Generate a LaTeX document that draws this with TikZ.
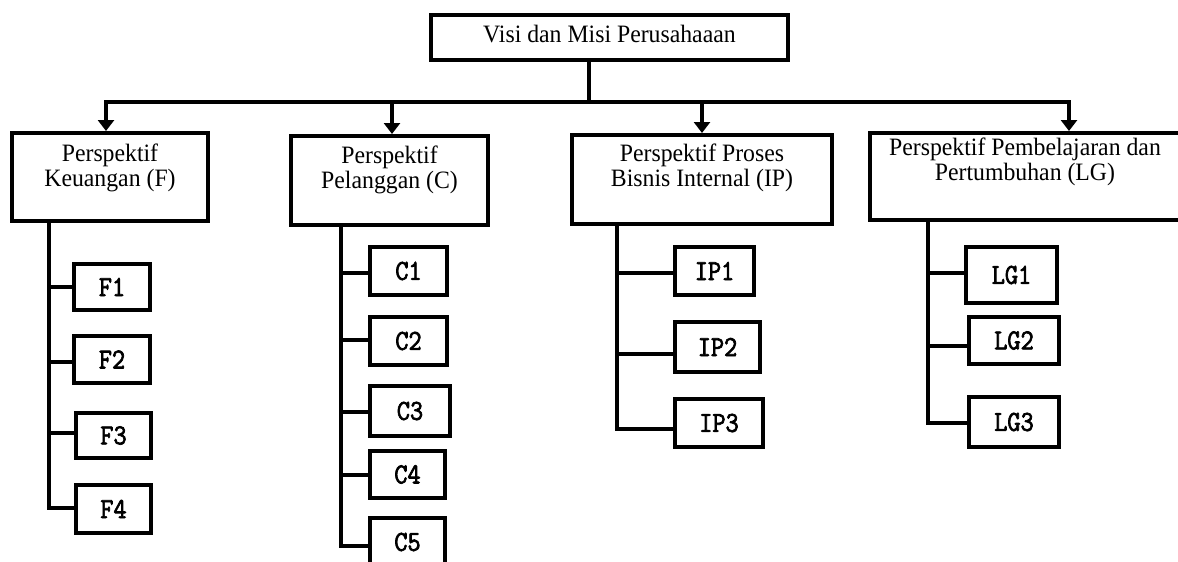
\documentclass[tikz,border=0pt]{standalone}
\usepackage{fontspec}
\setmainfont{Liberation Serif}[FakeStretch=0.95]
\newfontfamily\subfont{Latin Modern Mono}[FakeStretch=0.88, FakeBold=2.5]
\usetikzlibrary{arrows.meta}
\newcommand\ptxt[4]{\parbox[c][#2pt][t]{#1pt}{\centering\vspace*{#3pt}#4\par}}
\begin{document}
\begin{tikzpicture}[x=1pt, y=-1pt, line width=4pt,
  lbox/.style={draw, rectangle, inner sep=0pt, font=\fontsize{25}{25}\selectfont},
  sbox/.style={draw, rectangle, inner sep=0pt, font=\subfont\fontsize{29}{29}\selectfont},
  arr/.style={-{Triangle[width=16pt,length=11pt]}}]
\useasboundingbox (0,0) rectangle (1178,562);

% top
\node[lbox, minimum width=357pt, minimum height=45pt, text height=17pt, text depth=8pt] (V) at (609.5,37.5) {Visi dan Misi Perusahaaan};

% perspectives
\node[lbox] (F)  at (110,177)    {\ptxt{196}{88}{11}{Perspektif\\Keuangan (F)}};
\node[lbox] (C)  at (389.5,180.5) {\ptxt{197}{89}{10}{Perspektif\\Pelanggan (C)}};
\node[lbox] (IP) at (702,179.5)  {\ptxt{260}{89}{9}{Perspektif Proses\\Bisnis Internal (IP)}};
\node[lbox] (LG) at (1025,176.5) {\ptxt{310}{87}{5}{Perspektif Pembelajaran dan\\Pertumbuhan (LG)}};

% sub items F
\node[sbox, minimum width=76pt, minimum height=46pt] (F1) at (112,287)   {F1};
\node[sbox, minimum width=76pt, minimum height=47pt] (F2) at (112,359.5) {F2};
\node[sbox, minimum width=75pt, minimum height=45pt] (F3) at (113.5,435.5) {F3};
\node[sbox, minimum width=75pt, minimum height=48pt] (F4) at (113.5,509) {F4};
% sub items C
\node[sbox, minimum width=77pt, minimum height=48pt] (C1) at (408.5,271) {C1};
\node[sbox, minimum width=77pt, minimum height=48pt] (C2) at (408.5,341) {C2};
\node[sbox, minimum width=80pt, minimum height=50pt] (C3) at (410,411)   {C3};
\node[sbox, minimum width=75pt, minimum height=47pt] (C4) at (407.5,474.5) {C4};
\node[sbox, minimum width=75pt, minimum height=48pt] (C5) at (407.5,542) {C5};
% sub items IP
\node[sbox, minimum width=79pt, minimum height=48pt] (IP1) at (714.5,271) {IP1};
\node[sbox, minimum width=85pt, minimum height=50pt] (IP2) at (717.5,347) {IP2};
\node[sbox, minimum width=88pt, minimum height=48pt] (IP3) at (719,423)   {IP3};
% sub items LG
\node[sbox, minimum width=91pt, minimum height=56pt] (LG1) at (1011.5,275) {LG1};
\node[sbox, minimum width=90pt, minimum height=47pt] (LG2) at (1014,340.5) {LG2};
\node[sbox, minimum width=90pt, minimum height=50pt] (LG3) at (1014,422)   {LG3};

% bar and arrows
\coordinate (bar) at (0,101.5);
\draw[arr] ([xshift=-20.5pt]V.south) |- ([xshift=-4pt]F.north |- bar) -- ([xshift=-4pt]F.north);
\draw[arr] ([xshift=-20.5pt]V.south |- bar) -| ([xshift=44pt]LG.north);
\draw[arr] ([xshift=2.5pt]C.north |- bar) -- ([xshift=2.5pt]C.north);
\draw[arr] (IP.north |- bar) -- (IP.north);

% trunk x positions
\coordinate (tF) at (49,0);
\coordinate (tC) at (341,0);
\coordinate (tIP) at (617,0);
\coordinate (tLG) at (928,0);
% connection points
\coordinate (f1) at (F1.west);
\coordinate (f2) at ([yshift=-2.5pt]F2.west);
\coordinate (f3) at ([yshift=2.5pt]F3.west);
\coordinate (f4) at ([yshift=1pt]F4.west);
\coordinate (c1) at ([yshift=-2pt]C1.west);
\coordinate (c2) at ([yshift=1pt]C2.west);
\coordinate (c3) at ([yshift=-1pt]C3.west);
\coordinate (c4) at ([yshift=-0.5pt]C4.west);
\coordinate (c5) at ([yshift=-4pt]C5.west);
\coordinate (ip1) at ([yshift=-2pt]IP1.west);
\coordinate (ip2) at ([yshift=-7pt]IP2.west);
\coordinate (ip3) at ([yshift=-6pt]IP3.west);
\coordinate (lg1) at ([yshift=2pt]LG1.west);
\coordinate (lg2) at ([yshift=-5.5pt]LG2.west);
\coordinate (lg3) at ([yshift=-1pt]LG3.west);

\draw (F.south -| tF) |- (f4);
\draw (tF |- f1) -- (f1);
\draw (tF |- f2) -- (f2);
\draw (tF |- f3) -- (f3);

\draw (C.south -| tC) |- (c5);
\draw (tC |- c1) -- (c1);
\draw (tC |- c2) -- (c2);
\draw (tC |- c3) -- (c3);
\draw (tC |- c4) -- (c4);

\draw (IP.south -| tIP) |- (ip3);
\draw (tIP |- ip1) -- (ip1);
\draw (tIP |- ip2) -- (ip2);

\draw (LG.south -| tLG) |- (lg3);
\draw (tLG |- lg1) -- (lg1);
\draw (tLG |- lg2) -- (lg2);
\end{tikzpicture}
\end{document}
